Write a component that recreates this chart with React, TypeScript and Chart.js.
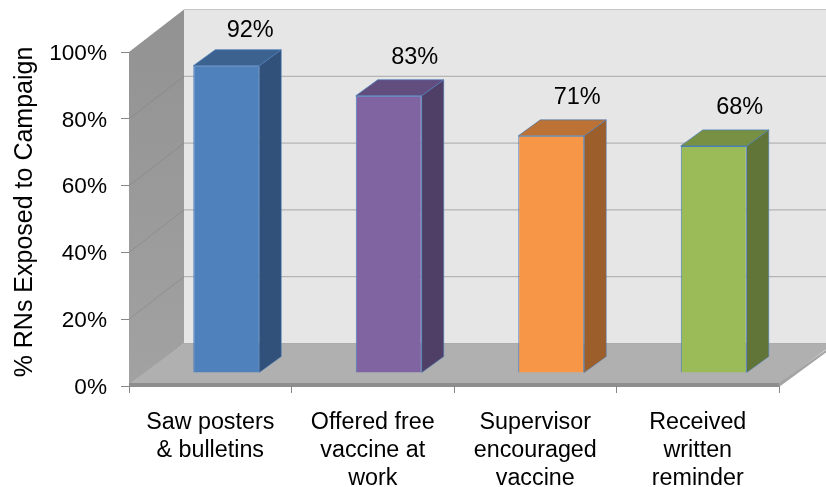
import React, { useEffect, useRef } from "react";
import { Chart, registerables } from "chart.js";

Chart.register(...registerables);

const categories = [
  ["Saw posters", "& bulletins"],
  ["Offered free", "vaccine at", "work"],
  ["Supervisor", "encouraged", "vaccine"],
  ["Received", "written", "reminder"],
];
const exposed = [92, 83, 71, 68];
const frontColors = ["#4f81bd", "#8064a2", "#f79646", "#9bbb59"];
const sideColors = ["#31507a", "#4f3f66", "#9c5f2c", "#627538"];
const topColors = ["#3c6290", "#624d7f", "#bc7235", "#779044"];
const yTicks = [0, 20, 40, 60, 80, 100];

const FONT = '"Liberation Sans", Arial, sans-serif';
const WALL_DX = 55;
const WALL_DY = -42.5;
const BAR_DX = 16;
const BAR_DY = -13;
const SIDE_DX = 22;
const SIDE_DY = -16;
const LABEL_NUDGE_X = [24, 26, 26, 26];
const LABEL_NUDGE_Y = [-35, -38, -38, -38];

const poly = (ctx: CanvasRenderingContext2D, pts: number[][], fill: any, stroke?: string) => {
  ctx.beginPath();
  pts.forEach(([x, y], i) => (i ? ctx.lineTo(x, y) : ctx.moveTo(x, y)));
  ctx.closePath();
  ctx.fillStyle = fill;
  ctx.fill();
  if (stroke) {
    ctx.strokeStyle = stroke;
    ctx.lineWidth = 1;
    ctx.stroke();
  }
};

const wallsPlugin = {
  id: "walls",
  beforeDraw(chart: any) {
    const { ctx, chartArea: a, scales, width } = chart;
    const y = scales.y;
    const backL = a.left + WALL_DX;
    const backTop = a.top + WALL_DY;
    const backBottom = a.bottom + WALL_DY;
    ctx.save();
    ctx.fillStyle = "#e6e6e6";
    ctx.fillRect(backL, backTop, width - backL, backBottom - backTop);
    const g = ctx.createLinearGradient(0, backTop, 0, a.bottom);
    g.addColorStop(0, "#929292");
    g.addColorStop(1, "#a2a2a2");
    poly(ctx, [[a.left, a.top], [backL, backTop], [backL, backBottom], [a.left, a.bottom]], g);
    yTicks.forEach((v) => {
      const py = y.getPixelForValue(v);
      ctx.lineWidth = 1;
      ctx.strokeStyle = v === 100 ? "#c4c4c4" : "#a8a8a8";
      ctx.beginPath();
      ctx.moveTo(backL, py + WALL_DY);
      ctx.lineTo(width, py + WALL_DY);
      ctx.stroke();
      if (v > 0 && v < 100) {
        ctx.strokeStyle = "rgba(125,125,125,0.45)";
        ctx.beginPath();
        ctx.moveTo(a.left, py);
        ctx.lineTo(backL, py + WALL_DY);
        ctx.stroke();
      }
    });
    poly(ctx, [[a.left, a.bottom - 2], [backL, backBottom], [a.right + WALL_DX, backBottom], [a.right, a.bottom - 2]], "#b0b0b0");
    ctx.fillStyle = "#8e8e8e";
    ctx.fillRect(a.left, a.bottom - 3, a.right - a.left, 4);
    poly(ctx, [[a.right, a.bottom - 3], [a.right + WALL_DX, backBottom + 1], [a.right + WALL_DX, backBottom + 3], [a.right, a.bottom + 1]], "#a4a4a4");
    ctx.restore();
  },
};

const bars3dPlugin = {
  id: "bars3d",
  beforeDatasetsDraw(chart: any) {
    const { ctx } = chart;
    ctx.save();
    ctx.translate(BAR_DX, BAR_DY);
    chart.getDatasetMeta(0).data.forEach((bar: any, i: number) => {
      const r = bar.x + bar.width / 2;
      const l = bar.x - bar.width / 2;
      poly(ctx, [[r, bar.y], [r + SIDE_DX, bar.y + SIDE_DY], [r + SIDE_DX, bar.base + SIDE_DY], [r, bar.base]], sideColors[i], "rgba(74,126,187,0.55)");
      poly(ctx, [[l, bar.y], [l + SIDE_DX, bar.y + SIDE_DY], [r + SIDE_DX, bar.y + SIDE_DY], [r, bar.y]], topColors[i], "rgba(74,126,187,0.7)");
    });
  },
  afterDatasetsDraw(chart: any) {
    const { ctx } = chart;
    ctx.restore();
    ctx.save();
    ctx.font = `23.5px ${FONT}`;
    ctx.fillStyle = "#000";
    ctx.textAlign = "center";
    ctx.textBaseline = "middle";
    chart.getDatasetMeta(0).data.forEach((bar: any, i: number) => {
      ctx.fillText(`${exposed[i]}%`, bar.x + BAR_DX + LABEL_NUDGE_X[i], bar.y + BAR_DY + LABEL_NUDGE_Y[i]);
    });
    ctx.restore();
  },
};

const titleShiftPlugin = {
  id: "titleShift",
  afterLayout(chart: any) {
    const y = chart.scales.y;
    if (y.__shifted) return;
    y.__shifted = true;
    const origTitle = y.drawTitle.bind(y);
    y.drawTitle = () => {
      y.ctx.save();
      y.ctx.translate(0, -7);
      origTitle();
      y.ctx.restore();
    };
    const origLabels = y.drawLabels.bind(y);
    y.drawLabels = (area: any) => {
      y.ctx.save();
      y.ctx.translate(0, 1.5);
      origLabels(area);
      y.ctx.restore();
    };
  },
};

export default function App() {
  const ref = useRef<HTMLCanvasElement>(null);
  useEffect(() => {
    const chart = new Chart(ref.current!, {
      type: "bar",
      data: {
        labels: categories,
        datasets: [
          {
            label: "% RNs Exposed to Campaign",
            data: exposed,
            backgroundColor: frontColors,
            borderColor: "#4a7ebb",
            borderWidth: 1,
            barPercentage: 0.406,
            categoryPercentage: 1,
            clip: false as any,
          },
        ],
      },
      options: {
        responsive: false,
        animation: false,
        layout: { padding: { left: 0, top: 52, right: 47, bottom: 0 } },
        plugins: { legend: { display: false }, tooltip: { enabled: false } },
        scales: {
          x: {
            afterFit: (s: any) => { s.height = 101; },
            border: { display: false },
            grid: { drawOnChartArea: false, drawTicks: true, tickLength: 7, color: "#868686", lineWidth: 1 },
            ticks: { font: { family: FONT, size: 23.3, lineHeight: 1.22 }, color: "#000", maxRotation: 0, minRotation: 0, autoSkip: false, padding: 15 },
          },
          y: {
            min: 0,
            max: 100,
            afterFit: (s: any) => { s.width = 129; },
            afterBuildTicks: (s: any) => { s.ticks = yTicks.map((value) => ({ value })); },
            border: { display: false },
            grid: { drawOnChartArea: false, drawTicks: true, tickLength: 8, color: "#868686", lineWidth: 1 },
            ticks: { font: { family: FONT, size: 22.6 }, color: "#000", padding: 14, callback: (v: any) => `${v}%` },
            title: {
              display: true,
              text: "% RNs Exposed to Campaign",
              font: { family: FONT, size: 25 },
              color: "#000",
              padding: { top: 10, bottom: 0 },
            },
          },
        },
      },
      plugins: [wallsPlugin, bars3dPlugin, titleShiftPlugin],
    } as any);
    return () => chart.destroy();
  }, []);
  return (
    <div style={{ position: "absolute", left: 0, top: 0, width: 826, height: 487, background: "#fff" }}>
      <canvas ref={ref} width={826} height={487} style={{ display: "block" }} />
    </div>
  );
}
